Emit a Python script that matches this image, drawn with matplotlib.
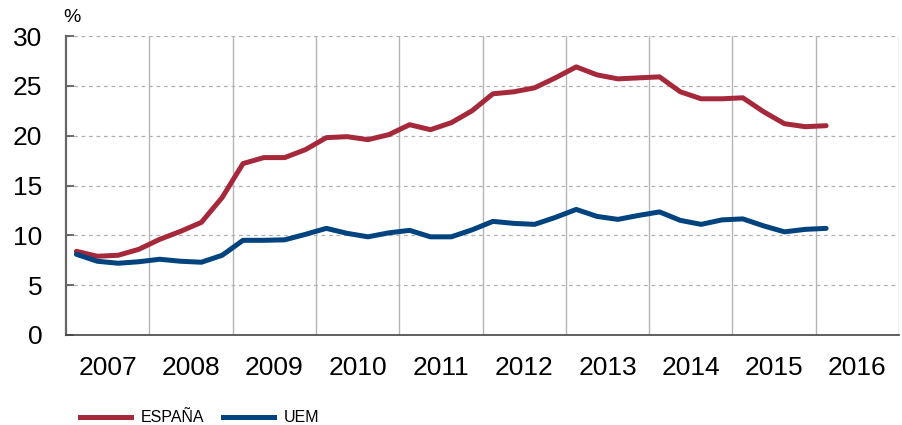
import matplotlib
matplotlib.use("Agg")
import matplotlib.pyplot as plt
from matplotlib.lines import Line2D
import numpy as np

# quarterly data, 2007Q1 .. 2016Q1
start_year = 2007
espana = [8.4, 7.9, 8.0, 8.6, 9.6, 10.4, 11.3, 13.8, 17.2, 17.8, 17.8, 18.6,
          19.8, 19.9, 19.6, 20.1, 21.1, 20.6, 21.3, 22.5, 24.2, 24.4, 24.8, 25.8,
          26.9, 26.1, 25.7, 25.8, 25.9, 24.4, 23.7, 23.7, 23.8, 22.4, 21.2, 20.9, 21.0]
uem = [8.1, 7.4, 7.2, 7.35, 7.6, 7.4, 7.3, 8.0, 9.5, 9.5, 9.55, 10.1,
       10.7, 10.2, 9.85, 10.25, 10.5, 9.85, 9.85, 10.55, 11.4, 11.2, 11.1, 11.8,
       12.6, 11.9, 11.6, 12.0, 12.35, 11.5, 11.1, 11.55, 11.65, 10.95, 10.35, 10.6, 10.7]
years = list(range(2007, 2017))
y_ticks = [0, 5, 10, 15, 20, 25, 30]
series_names = ["ESPAÑA", "UEM"]

red = "#A6283B"
blue = "#00437F"

plt.rcParams["font.family"] = ["Liberation Sans", "DejaVu Sans"]

W, H = 902, 425
fig = plt.figure(figsize=(W / 100, H / 100), dpi=100)
ax = fig.add_axes([66 / W, 90 / H, 833 / W, 299 / H])

x = start_year + 0.125 + 0.25 * np.arange(len(espana))
ax.plot(x, espana, color=red, lw=3.6, solid_capstyle="round", solid_joinstyle="round", zorder=3)
ax.plot(x, uem, color=blue, lw=3.6, solid_capstyle="round", solid_joinstyle="round", zorder=3)

ax.set_xlim(2007, 2017)
ax.set_ylim(0, 30)

# horizontal dashed grid
for v in y_ticks[1:]:
    ax.axhline(v, color="#b0b0b0", lw=0.9, ls=(0, (3, 3)), zorder=1)
# vertical solid year separators
for yr in range(2008, 2018):
    ax.axvline(yr, color="#b5b5b5", lw=1.0, zorder=1)

ax.set_yticks(y_ticks)
ax.set_yticklabels([str(v) for v in y_ticks], fontsize=19)
ax.tick_params(axis="y", direction="in", length=6, width=1.2, color="#555555", pad=17)
ax.set_xticks([yr + 0.5 for yr in years])
ax.set_xticklabels([str(yr) for yr in years], fontsize=19)
ax.tick_params(axis="x", length=0, pad=15)

for side in ["top", "right"]:
    ax.spines[side].set_visible(False)
ax.spines["left"].set_color("#666666")
ax.spines["left"].set_linewidth(1.6)
ax.spines["bottom"].set_color("#444444")
ax.spines["bottom"].set_linewidth(1.2)

fig.text(72 / W, 1 - 18 / H, "%", fontsize=14, ha="center", va="center")

# legend drawn by hand to match the reference spacing
leg_y = 1 - 417 / H
for name, col, x0, x1, tx in [(series_names[0], red, 80, 131, 141), (series_names[1], blue, 223, 274, 284)]:
    fig.add_artist(Line2D([x0 / W, x1 / W], [leg_y, leg_y], color=col, lw=3.6, transform=fig.transFigure))
    fig.text(tx / W, leg_y, name, ha="left", va="center", fontsize=11.5)

fig.savefig("out.png", dpi=100)
